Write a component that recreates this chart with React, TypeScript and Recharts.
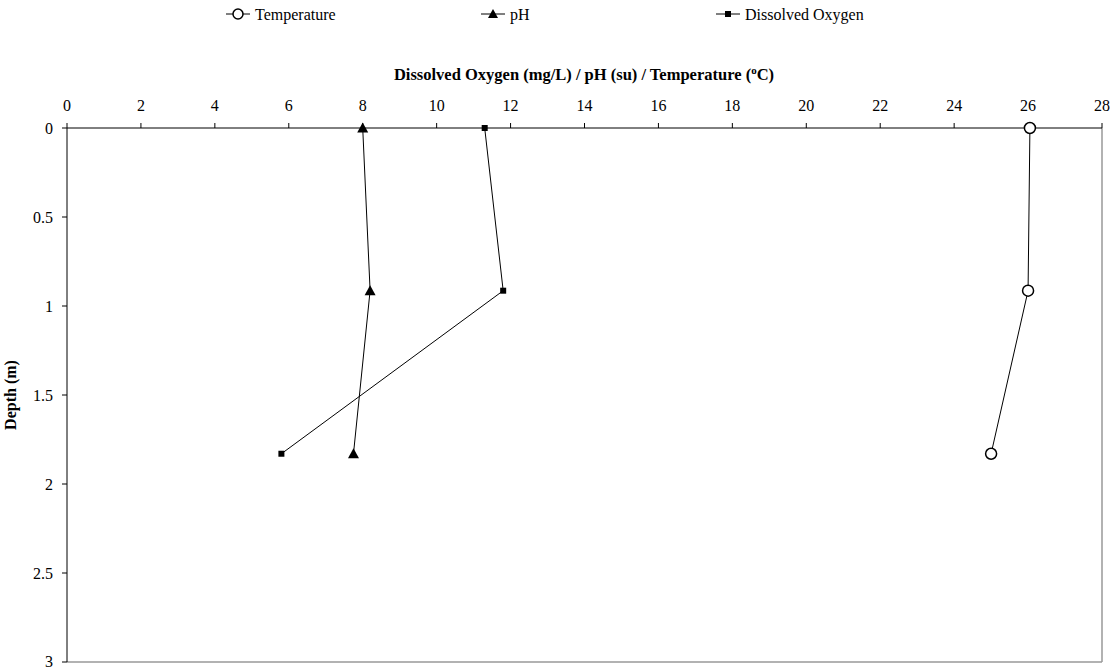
import React from 'react';
import { ScatterChart, Scatter, XAxis, YAxis, ReferenceLine } from 'recharts';

// depth of each profile reading (m)
const depths = [0, 0.914, 1.83];
const temperature = [26.05, 26.0, 25.0];
const ph = [8.0, 8.2, 7.75];
const dissolvedOxygen = [11.3, 11.8, 5.8];

const xTicks = [0, 2, 4, 6, 8, 10, 12, 14, 16, 18, 20, 22, 24, 26, 28];
const yTicks = [0, 0.5, 1, 1.5, 2, 2.5, 3];

const FONT = '"Liberation Serif", "Times New Roman", serif';

const toPoints = (values: number[]) => values.map((v, i) => ({ x: v, depth: depths[i] }));

const CircleDot = (props: any) => (
  <circle cx={props.cx} cy={props.cy} r={5.5} fill="#fff" stroke="#000" strokeWidth={1.5} />
);

const TriangleDot = (props: any) => {
  const { cx, cy } = props;
  return <path d={`M${cx},${cy - 5.5} L${cx + 5.5},${cy + 4.5} L${cx - 5.5},${cy + 4.5} Z`} fill="#000" />;
};

const SquareDot = (props: any) => (
  <rect x={props.cx - 3} y={props.cy - 3} width={6} height={6} fill="#000" />
);

const LegendItem = ({ x, label, marker }: { x: number; label: string; marker: React.ReactNode }) => (
  <g>
    <line x1={x} y1={14} x2={x + 24} y2={14} stroke="#000" strokeWidth={1} />
    {marker}
    <text x={x + 29} y={19.5} fontSize={16} fontFamily={FONT} fill="#000">{label}</text>
  </g>
);

const TopTitle = () => (
  <text x={584} y={80} textAnchor="middle" fontSize={16.5} fontWeight="bold" fontFamily={FONT} fill="#000">
    Dissolved Oxygen (mg/L) / pH (su) / Temperature (
    <tspan dy={-6} fontSize={11}>o</tspan>
    <tspan dy={6}>C)</tspan>
  </text>
);

export default function App() {
  return (
    <div style={{ position: 'absolute', left: 0, top: 0, width: 1115, height: 670, background: '#fff' }}>
      <svg width={1115} height={40} style={{ position: 'absolute', left: 0, top: 0 }}>
        <LegendItem x={226} label="Temperature" marker={<circle cx={238} cy={14} r={5} fill="#fff" stroke="#000" strokeWidth={1.5} />} />
        <LegendItem x={481} label="pH" marker={<path d="M493,9 L498,18 L488,18 Z" fill="#000" />} />
        <LegendItem x={716} label="Dissolved Oxygen" marker={<rect x={725} y={11} width={6} height={6} fill="#000" />} />
      </svg>
      <ScatterChart width={1115} height={670} margin={{ top: 0, right: 13, bottom: 8, left: 0 }}>
        <XAxis
          type="number"
          dataKey="x"
          orientation="top"
          domain={[0, 28]}
          ticks={xTicks}
          height={128}
          tickSize={5}
          tickMargin={12}
          stroke="#000"
          tick={{ fill: '#000', fontSize: 16, fontFamily: FONT }}
          label={{ content: () => <TopTitle /> }}
        />
        <YAxis
          type="number"
          dataKey="depth"
          reversed
          domain={[0, 3]}
          ticks={yTicks}
          width={67}
          tickSize={5}
          tickMargin={9}
          stroke="#000"
          tick={{ fill: '#000', fontSize: 16, fontFamily: FONT }}
          label={{
            value: 'Depth (m)',
            angle: -90,
            position: 'insideLeft',
            offset: 10,
            style: { fontSize: 16, fontWeight: 'bold', fontFamily: FONT, fill: '#000', textAnchor: 'middle' },
          }}
        />
        <ReferenceLine x={28} stroke="#999" strokeWidth={1.5} />
        <ReferenceLine y={3} stroke="#999" strokeWidth={1.5} />
        <Scatter data={toPoints(dissolvedOxygen)} line={{ stroke: '#000', strokeWidth: 1 }} shape={SquareDot} isAnimationActive={false} />
        <Scatter data={toPoints(ph)} line={{ stroke: '#000', strokeWidth: 1 }} shape={TriangleDot} isAnimationActive={false} />
        <Scatter data={toPoints(temperature)} line={{ stroke: '#000', strokeWidth: 1 }} shape={CircleDot} isAnimationActive={false} />
      </ScatterChart>
    </div>
  );
}
